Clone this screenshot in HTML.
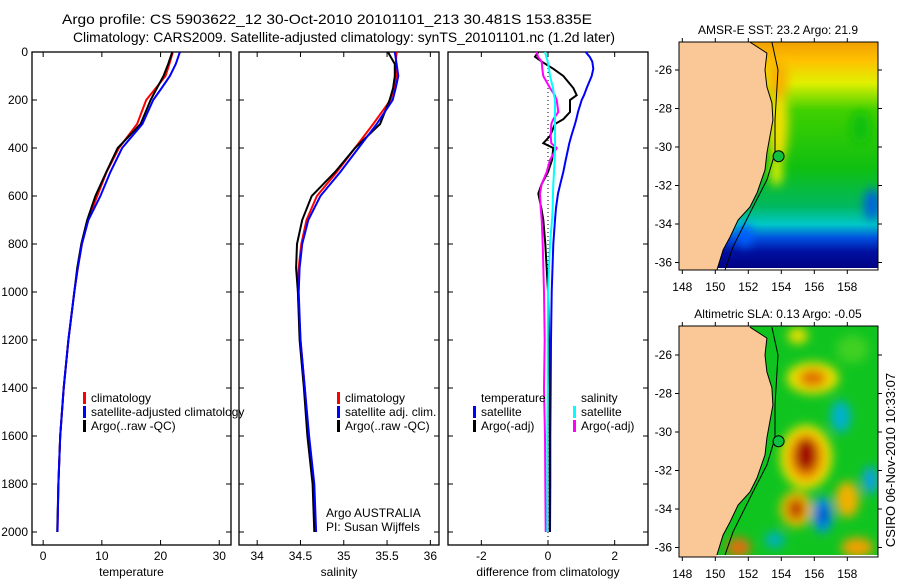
<!DOCTYPE html>
<html><head><meta charset="utf-8"><style>
html,body{margin:0;padding:0;background:#fff;}
svg{display:block;font-family:"Liberation Sans",sans-serif;}
</style></head><body>
<svg id="fig" width="900" height="580" viewBox="0 0 900 580" xmlns="http://www.w3.org/2000/svg">
<defs>
<filter id="blur" x="-20%" y="-20%" width="140%" height="140%"><feGaussianBlur stdDeviation="5"/></filter>
<clipPath id="clip1"><rect x="679" y="42" width="199" height="228"/></clipPath>
<clipPath id="clip2"><rect x="679" y="326" width="199" height="231"/></clipPath>
<linearGradient id="sstGrad" x1="0" y1="0" x2="0" y2="1">
<stop offset="0" stop-color="#f0a000"/><stop offset="0.08" stop-color="#ffc000"/>
<stop offset="0.18" stop-color="#e0f000"/><stop offset="0.3" stop-color="#40d000"/>
<stop offset="0.55" stop-color="#10c010"/><stop offset="0.72" stop-color="#00b860"/>
<stop offset="0.8" stop-color="#00c8c8"/><stop offset="0.86" stop-color="#0050e0"/>
<stop offset="0.92" stop-color="#0010a0"/><stop offset="1" stop-color="#000080"/>
</linearGradient>
</defs>
<text x="62" y="24" font-size="14" textLength="530" lengthAdjust="spacingAndGlyphs">Argo profile: CS 5903622_12 30-Oct-2010 20101101_213 30.481S 153.835E</text>
<text x="73" y="42" font-size="14" textLength="542" lengthAdjust="spacingAndGlyphs">Climatology: CARS2009. Satellite-adjusted climatology: synTS_20101101.nc (1.2d later)</text>
<g id="plots"></g>
<g id="maps"></g>
<text transform="translate(895,460) rotate(-90)" text-anchor="middle" font-size="13">CSIRO 06-Nov-2010 10:33:07</text>
</svg>
<script>
const depths=[0,50,100,150,200,300,400,500,600,700,800,900,1000,1200,1400,1600,1800,2000];
const tempClim=[22.1,21.5,20.85,19.2,17.55,16.0,12.9,10.8,9.2,7.6,6.6,5.9,5.3,4.3,3.5,2.9,2.6,2.45];
const tempSatClim=[23.3,22.6,21.6,20.2,18.75,16.9,13.45,11.45,9.75,7.7,6.6,5.9,5.3,4.3,3.5,2.9,2.6,2.45];
const tempArgo=[22.0,21.3,20.5,19.4,18.3,16.6,12.7,10.75,8.9,7.5,6.5,5.8,5.3,4.3,3.5,2.9,2.6,2.4];
const salClim=[35.61,35.6,35.61,35.58,35.54,35.34,35.13,34.92,34.69,34.57,34.51,34.48,34.47,34.5,34.55,34.59,34.65,34.67];
const salSatClim=[35.59,35.61,35.63,35.6,35.565,35.38,35.17,34.96,34.73,34.59,34.52,34.49,34.48,34.5,34.55,34.6,34.66,34.68];
const salArgo=[35.51,35.59,35.59,35.57,35.53,35.42,35.13,34.9,34.63,34.52,34.46,34.45,34.47,34.49,34.54,34.58,34.64,34.66];
const diffDepths=[0,20,40,70,100,150,180,200,250,280,300,350,380,400,450,500,550,590,650,700,800,1000,1200,1400,1600,1800,2000];
const diffTempSat=[1.13,1.25,1.33,1.36,1.31,1.16,1.08,1.01,0.9,0.85,0.81,0.7,0.64,0.61,0.53,0.46,0.37,0.3,0.24,0.21,0.16,0.11,0.09,0.08,0.07,0.07,0.06];
const diffTempArgo=[-0.29,-0.39,-0.19,0.16,0.46,0.76,0.86,0.66,0.66,0.46,0.21,0.06,-0.14,0.16,0.12,0.0,-0.19,-0.29,-0.2,-0.14,-0.08,0.0,0.03,0.05,0.05,0.05,0.05];
const diffSalSat=[-0.09,-0.05,-0.01,0.03,0.06,0.15,0.18,0.21,0.21,0.21,0.21,0.21,0.21,0.21,0.2,0.18,0.16,0.15,0.14,0.12,0.06,0.0,-0.01,-0.01,-0.02,-0.02,-0.02];
const diffSalArgo=[-0.34,-0.3,-0.19,-0.17,-0.14,0.06,0.2,0.26,0.31,0.16,0.1,0.08,0.1,0.26,0.06,-0.04,-0.19,-0.24,-0.22,-0.19,-0.16,-0.12,-0.1,-0.12,-0.09,-0.08,-0.07];
const depthTicks=[0,200,400,600,800,1000,1200,1400,1600,1800,2000];
const tempTicks=[0,10,20,30];
const salTicks=[34,34.5,35,35.5,36];
const diffTicks=[-2,0,2];
const lonTicks=[148,150,152,154,156,158];
const latTicks=[-26,-28,-30,-32,-34,-36];

const NS="http://www.w3.org/2000/svg";
function mk(tag,attrs,parent,txt){const e=document.createElementNS(NS,tag);for(const k in attrs)e.setAttribute(k,attrs[k]);if(txt!=null)e.textContent=txt;parent.appendChild(e);return e;}
const plots=document.getElementById('plots');
const yD=d=>52+d*0.24;

function panel(name,x0,x1,xmin,xmax,ticks,label,showY){
  const g=mk('g',{},plots);
  
  
  const sx=v=>x0+(v-xmin)/(xmax-xmin)*(x1-x0);
  const r=mk('rect',{x:x0,y:52,width:x1-x0,height:493,fill:'none',stroke:'#000','stroke-width':1.3},g);
  
  
  depthTicks.forEach(d=>{
    mk('line',{x1:x0,x2:x0+5,y1:yD(d),y2:yD(d),stroke:'#000'},g);
    mk('line',{x1:x1,x2:x1-5,y1:yD(d),y2:yD(d),stroke:'#000'},g);
    if(showY){const t=mk('text',{x:x0-4,y:yD(d)+4,'text-anchor':'end','font-size':12},g,String(d));
      
      }
  });
  ticks.forEach(v=>{
    const x=sx(v);
    mk('line',{x1:x,x2:x,y1:545,y2:540,stroke:'#000'},g);
    mk('line',{x1:x,x2:x,y1:52,y2:57,stroke:'#000'},g);
    const t=mk('text',{x:x,y:560,'text-anchor':'middle','font-size':12},g,String(v));
    
    
  });
  const l=mk('text',{x:(x0+x1)/2,y:576,'text-anchor':'middle','font-size':12},g,label);
  
  
  return {g,sx};
}
function line(p,dep,vals,color,name){
  const pts=dep.map((d,i)=>p.sx(vals[i]).toFixed(1)+','+yD(d).toFixed(1)).join(' ');
  const e=mk('polyline',{points:pts,fill:'none',stroke:color,'stroke-width':2},p.g);
  
  
}
function legendItem(g,x,y,color,txt,name){
  if(color){const m=mk('rect',{x:x,y:y-10,width:3,height:12,fill:color},g);
    
    }
  const t=mk('text',{x:x+8,y:y,'font-size':12},g,txt);
  
  
}

const p1=panel('temperature-panel',32,231,-1.9,32,tempTicks,'temperature',true);
line(p1,depths,tempClim,'#f00','temp-climatology-line');
line(p1,depths,tempArgo,'#000','temp-argo-line');
line(p1,depths,tempSatClim,'#00f','temp-satellite-clim-line');
legendItem(p1.g,83,402,'#f00','climatology','legend-climatology');
legendItem(p1.g,83,416,'#00f','satellite-adjusted climatology','legend-satellite-adjusted');
legendItem(p1.g,83,430,'#000','Argo(..raw -QC)','legend-argo');

const p2=panel('salinity-panel',239,439,33.79,36.1,salTicks,'salinity',false);
line(p2,depths,salClim,'#f00','sal-climatology-line');
line(p2,depths,salArgo,'#000','sal-argo-line');
line(p2,depths,salSatClim,'#00f','sal-satellite-clim-line');
legendItem(p2.g,337,402,'#f00','climatology','legend-climatology-sal');
legendItem(p2.g,337,416,'#00f','satellite adj. clim.','legend-satellite-adj-sal');
legendItem(p2.g,337,430,'#000','Argo(..raw -QC)','legend-argo-sal');
const a1=mk('text',{x:326,y:517,'font-size':12},p2.g,'Argo AUSTRALIA');


const a2=mk('text',{x:326,y:531,'font-size':12},p2.g,'PI: Susan Wijffels');



const p3=panel('difference-panel',448,648,-3,3,diffTicks,'difference from climatology',false);
const z=mk('line',{x1:p3.sx(0),x2:p3.sx(0),y1:52,y2:545,stroke:'#000','stroke-dasharray':'1,3'},p3.g);


line(p3,diffDepths,diffTempSat,'#00f','diff-temp-satellite-line');
line(p3,diffDepths,diffTempArgo,'#000','diff-temp-argo-line');
line(p3,diffDepths,diffSalArgo,'#f0f','diff-sal-argo-line');
line(p3,diffDepths,diffSalSat,'#0ff','diff-sal-satellite-line');
legendItem(p3.g,473,402,null,'temperature','legend-temperature-heading');
legendItem(p3.g,473,416,'#00f','satellite','legend-temp-satellite');
legendItem(p3.g,473,430,'#000','Argo(-adj)','legend-temp-argo');
legendItem(p3.g,573,402,null,'salinity','legend-salinity-heading');
legendItem(p3.g,573,416,'#0ff','satellite','legend-sal-satellite');
legendItem(p3.g,573,430,'#f0f','Argo(-adj)','legend-sal-argo');

// maps
const maps=document.getElementById('maps');
const coastLon=[152.10,153.13,153.01,153.13,153.43,153.49,153.30,153.13,153.01,152.53,152.10,151.38,150.89,150.47,150.10];
const coastLat=[-24.55,-25.12,-26.0,-26.88,-27.71,-28.6,-29.48,-30.31,-31.19,-32.39,-33.12,-33.79,-34.68,-35.35,-36.39];
const shelfLon=[153.43,153.8,153.62,153.62,153.13,152.28,151.07,150.59];
const shelfLat=[-24.55,-26.0,-28.6,-30.31,-31.71,-33.12,-35.19,-36.39];
function map(name,top,latRef,clip,title,ocean){
  const g=mk('g',{},maps);
  
  
  const mx=lon=>682.3+(lon-148)*16.5;
  const my=lat=>latRef+(-26-lat)*19.25;
  const h=(name==='sst-map')?228:231;
  const c=mk('g',{'clip-path':'url(#'+clip+')'},g);
  ocean(c,mx,my,top,h);
  let pts=mx(146)+','+my(-24)+' '+mx(152.1)+','+my(-24)+' '+coastLon.map((l,i)=>mx(l).toFixed(1)+','+my(coastLat[i]).toFixed(1)).join(' ')+' '+mx(149.9)+','+my(-37)+' '+mx(146)+','+my(-37);
  const land=mk('polygon',{points:pts,fill:'#fac896'},c);
  
  
  const cl=mk('polyline',{points:coastLon.map((l,i)=>mx(l).toFixed(1)+','+my(coastLat[i]).toFixed(1)).join(' '),fill:'none',stroke:'#000','stroke-width':1},c);
  
  
  const sh=mk('polyline',{points:shelfLon.map((l,i)=>mx(l).toFixed(1)+','+my(shelfLat[i]).toFixed(1)).join(' '),fill:'none',stroke:'#000','stroke-width':1},c);
  
  
  const m=mk('circle',{cx:mx(153.835),cy:my(-30.481),r:5.5,fill:'#10c040',stroke:'#000'},c);
  
  
  const fr=mk('rect',{x:679,y:top,width:199,height:h,fill:'none',stroke:'#000'},g);
  
  
  latTicks.forEach(l=>{
    mk('line',{x1:679,x2:675,y1:my(l),y2:my(l),stroke:'#000'},g);
    mk('line',{x1:878,x2:882,y1:my(l),y2:my(l),stroke:'#000'},g);
    const t=mk('text',{x:672,y:my(l)+4,'text-anchor':'end','font-size':12},g,String(l));
    
    
  });
  lonTicks.forEach(l=>{
    mk('line',{x1:mx(l),x2:mx(l),y1:top,y2:top-4,stroke:'#000'},g);
    mk('line',{x1:mx(l),x2:mx(l),y1:top+h,y2:top+h+4,stroke:'#000'},g);
    const t=mk('text',{x:mx(l),y:top+h+21,'text-anchor':'middle','font-size':12},g,String(l));
    
    
  });
  const tt=mk('text',{x:778,y:top-8,'text-anchor':'middle','font-size':12},g,title);
  
  
}
function blob(p,mx,my,lon,lat,rx,ry,col){
  mk('ellipse',{cx:mx(lon),cy:my(lat),rx:rx,ry:ry,fill:col},p);
}
map('sst-map',42,70,'clip1','AMSR-E SST: 23.2 Argo: 21.9',(c,mx,my,top,h)=>{
  mk('rect',{x:679,y:top,width:199,height:h,fill:'url(#sstGrad)'},c);
  const b=mk('g',{filter:'url(#blur)'},c);
  blob(b,mx,my,153.8,-28.8,10,40,'#f0e000');
  blob(b,mx,my,153.7,-31.3,6,14,'#e8f000');
  blob(b,mx,my,153.8,-26.5,10,20,'#f8b000');
  blob(b,mx,my,158.8,-29,10,16,'#10c010');
  blob(b,mx,my,159.5,-33,8,16,'#0060e0');
  blob(b,mx,my,151.8,-34.6,7,12,'#0060ff');
  mk('rect',{x:679,y:top+h-2,width:199,height:3,fill:'#fff'},c);
});
map('sla-map',326,355,'clip2','Altimetric SLA: 0.13 Argo: -0.05',(c,mx,my,top,h)=>{
  mk('rect',{x:679,y:top,width:199,height:h,fill:'#10c420'},c);
  const b=mk('g',{filter:'url(#blur)'},c);
  blob(b,mx,my,155.9,-27.2,26,16,'#f0e000');
  blob(b,mx,my,155.9,-27.2,14,9,'#e07000');
  blob(b,mx,my,155.5,-31.3,26,32,'#f0e000');
  blob(b,mx,my,155.5,-31.3,18,24,'#f09000');
  blob(b,mx,my,155.5,-31.2,11,17,'#a00000');
  blob(b,mx,my,154.9,-34,16,18,'#f0c000');
  blob(b,mx,my,154.9,-34,9,11,'#c04000');
  blob(b,mx,my,156.5,-34.3,10,18,'#0090f0');
  blob(b,mx,my,156.5,-34.3,5,9,'#0040c0');
  blob(b,mx,my,157.6,-29.2,10,16,'#00b0d0');
  blob(b,mx,my,159.4,-32.5,8,14,'#10a0e0');
  blob(b,mx,my,158,-33.5,12,18,'#f0b000');
  blob(b,mx,my,158.6,-36,16,10,'#f0a000');
  blob(b,mx,my,151.4,-36,12,10,'#e07010');
  blob(b,mx,my,153.6,-35.6,10,8,'#00b0c0');
  blob(b,mx,my,155,-25,10,8,'#f0e000');
  blob(b,mx,my,158.3,-25.7,16,14,'#40d020');
  mk('rect',{x:679,y:top+h-2,width:199,height:3,fill:'#fff'},c);
});
</script>
</body></html>
